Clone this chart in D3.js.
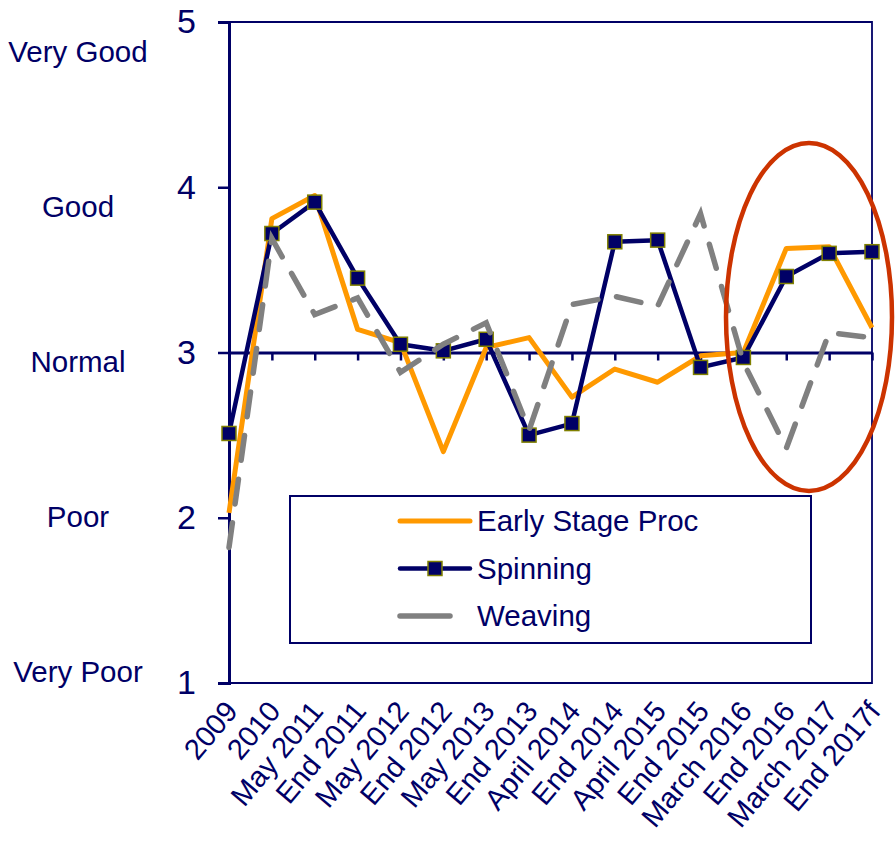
<!DOCTYPE html>
<html>
<head>
<meta charset="utf-8">
<script src="https://cdn.jsdelivr.net/npm/d3@7"></script>
<style>
  body { margin: 0; background: #fff; }
  text { font-family: "Liberation Sans", Arial, sans-serif; fill: #000066; }
</style>
</head>
<body>
<div id="chart"></div>
<script>
// Chart data.
var categories = ["2009", "2010", "May 2011", "End 2011", "May 2012", "End 2012",
  "May 2013", "End 2013", "April 2014", "End 2014", "April 2015", "End 2015",
  "March 2016", "End 2016", "March 2017", "End 2017f"];
var earlyStage = [2.03, 3.81, 3.95, 3.14, 3.06, 2.40, 3.03, 3.09, 2.73, 2.90, 2.82, 2.98, 3.00, 3.63, 3.64, 3.15];
var spinning   = [2.51, 3.72, 3.91, 3.45, 3.05, 3.01, 3.08, 2.50, 2.57, 3.67, 3.68, 2.91, 2.97, 3.46, 3.60, 3.61];
var weaving    = [1.82, 3.69, 3.23, 3.33, 2.88, 3.05, 3.18, 2.53, 3.29, 3.34, 3.28, 3.84, 2.94, 2.42, 3.12, 3.09];
var yTicks = [1, 2, 3, 4, 5];
var ratingLabels = ["Very Good", "Good", "Normal", "Poor", "Very Poor"];
var seriesNames = ["Early Stage Proc", "Spinning", "Weaving"];

// Size and margins.
var width = 895, height = 841;
var margin = { top: 22, right: 23, bottom: 158, left: 229 };
var innerW = width - margin.left - margin.right;
var innerH = height - margin.top - margin.bottom;

var navy = "#000066";

var svg = d3.select("#chart").append("svg")
  .attr("width", width)
  .attr("height", height);

var g = svg.append("g")
  .attr("transform", "translate(" + margin.left + "," + margin.top + ")");

// Scales.
var xScale = d3.scalePoint()
  .domain(categories)
  .range([0, innerW]);

var yScale = d3.scaleLinear()
  .domain([1, 5])
  .range([innerH, 0]);

// Plot area border (top, right, bottom).
g.append("path")
  .attr("d", "M0,0H" + innerW + "V" + innerH + "H0")
  .attr("fill", "none")
  .attr("stroke", navy)
  .attr("stroke-width", 1.8);

// Y axis with numbers.
var yAxis = g.append("g")
  .attr("class", "y_axis")
  .call(d3.axisLeft(yScale).tickValues(yTicks).tickFormat(d3.format("d"))
    .tickSize(11).tickPadding(22));
yAxis.select(".domain").attr("stroke", navy).attr("stroke-width", 3);
yAxis.selectAll(".tick line").attr("stroke", navy).attr("stroke-width", 2.5);
yAxis.selectAll(".tick text")
  .attr("fill", navy)
  .style("font-size", "34px")
  .style("font-family", "'Liberation Sans', Arial, sans-serif");

// Horizontal axis crossing at 3 (Normal), ticks pointing down, no labels.
var xAxis = g.append("g")
  .attr("class", "x_axis")
  .attr("transform", "translate(0," + yScale(3) + ")")
  .call(d3.axisBottom(xScale).tickSizeInner(8).tickSizeOuter(0).tickFormat(""));
xAxis.select(".domain").attr("stroke", navy).attr("stroke-width", 3);
xAxis.selectAll(".tick line").attr("stroke", navy).attr("stroke-width", 2.5);

// Category labels at the bottom, rotated.
g.append("g")
  .attr("class", "x_labels")
  .selectAll("text")
  .data(categories)
  .join("text")
  .attr("transform", function(d) {
    return "translate(" + (xScale(d) + 10) + "," + (innerH + 29) + ") rotate(-50)";
  })
  .attr("text-anchor", "end")
  .style("font-size", "29px")
  .text(function(d) { return d; });

// Rating words left of the axis.
var ratingScale = d3.scalePoint()
  .domain(ratingLabels)
  .range([52, 672]);

svg.append("g")
  .attr("class", "ratings")
  .selectAll("text")
  .data(ratingLabels)
  .join("text")
  .attr("x", 78)
  .attr("y", function(d) { return ratingScale(d); })
  .attr("dy", "0.35em")
  .attr("text-anchor", "middle")
  .style("font-size", "29.5px")
  .text(function(d) { return d; });

// Lines.
var line = d3.line()
  .x(function(d, i) { return xScale(categories[i]); })
  .y(function(d) { return yScale(d); });

g.append("path")
  .datum(earlyStage)
  .attr("fill", "none")
  .attr("stroke", "#FF9900")
  .attr("stroke-width", 5)
  .attr("stroke-linejoin", "round")
  .attr("d", line);

g.append("path")
  .datum(spinning)
  .attr("fill", "none")
  .attr("stroke", navy)
  .attr("stroke-width", 4.5)
  .attr("stroke-linejoin", "round")
  .attr("d", line);

var sq = 14;
g.selectAll(".marker")
  .data(spinning)
  .join("rect")
  .attr("class", "marker")
  .attr("x", function(d, i) { return xScale(categories[i]) - sq / 2; })
  .attr("y", function(d) { return yScale(d) - sq / 2; })
  .attr("width", sq)
  .attr("height", sq)
  .attr("fill", navy)
  .attr("stroke", "#808000")
  .attr("stroke-width", 1.5);

g.append("path")
  .datum(weaving)
  .attr("fill", "none")
  .attr("stroke", "#808080")
  .attr("stroke-width", 5.5)
  .attr("stroke-linecap", "round")
  .attr("stroke-dasharray", "25,19")
  .attr("d", line);

// Red ellipse highlighting the last periods.
svg.append("ellipse")
  .attr("cx", 809)
  .attr("cy", 317)
  .attr("rx", 83)
  .attr("ry", 174)
  .attr("fill", "none")
  .attr("stroke", "#CC3300")
  .attr("stroke-width", 4.5);

// Legend.
var legend = svg.append("g").attr("class", "legend");
legend.append("rect")
  .attr("x", 290)
  .attr("y", 496)
  .attr("width", 521)
  .attr("height", 147)
  .attr("fill", "#fff")
  .attr("stroke", navy)
  .attr("stroke-width", 2);

var rowY = d3.scalePoint().domain(seriesNames).range([521, 616]);

legend.append("line")
  .attr("x1", 400).attr("x2", 470)
  .attr("y1", rowY(seriesNames[0])).attr("y2", rowY(seriesNames[0]))
  .attr("stroke", "#FF9900").attr("stroke-width", 5).attr("stroke-linecap", "round");
legend.append("line")
  .attr("x1", 400).attr("x2", 470)
  .attr("y1", rowY(seriesNames[1])).attr("y2", rowY(seriesNames[1]))
  .attr("stroke", navy).attr("stroke-width", 4.5).attr("stroke-linecap", "round");
legend.append("rect")
  .attr("x", 435 - sq / 2).attr("y", rowY(seriesNames[1]) - sq / 2)
  .attr("width", sq).attr("height", sq)
  .attr("fill", navy).attr("stroke", "#808000").attr("stroke-width", 1.5);
legend.append("line")
  .attr("x1", 400).attr("x2", 450)
  .attr("y1", rowY(seriesNames[2])).attr("y2", rowY(seriesNames[2]))
  .attr("stroke", "#808080").attr("stroke-width", 5.5).attr("stroke-linecap", "round");

legend.selectAll(".legend_text")
  .data(seriesNames)
  .join("text")
  .attr("class", "legend_text")
  .attr("x", 477)
  .attr("y", function(d) { return rowY(d); })
  .attr("dy", "0.35em")
  .style("font-size", "29.5px")
  .text(function(d) { return d; });
</script>
</body>
</html>
